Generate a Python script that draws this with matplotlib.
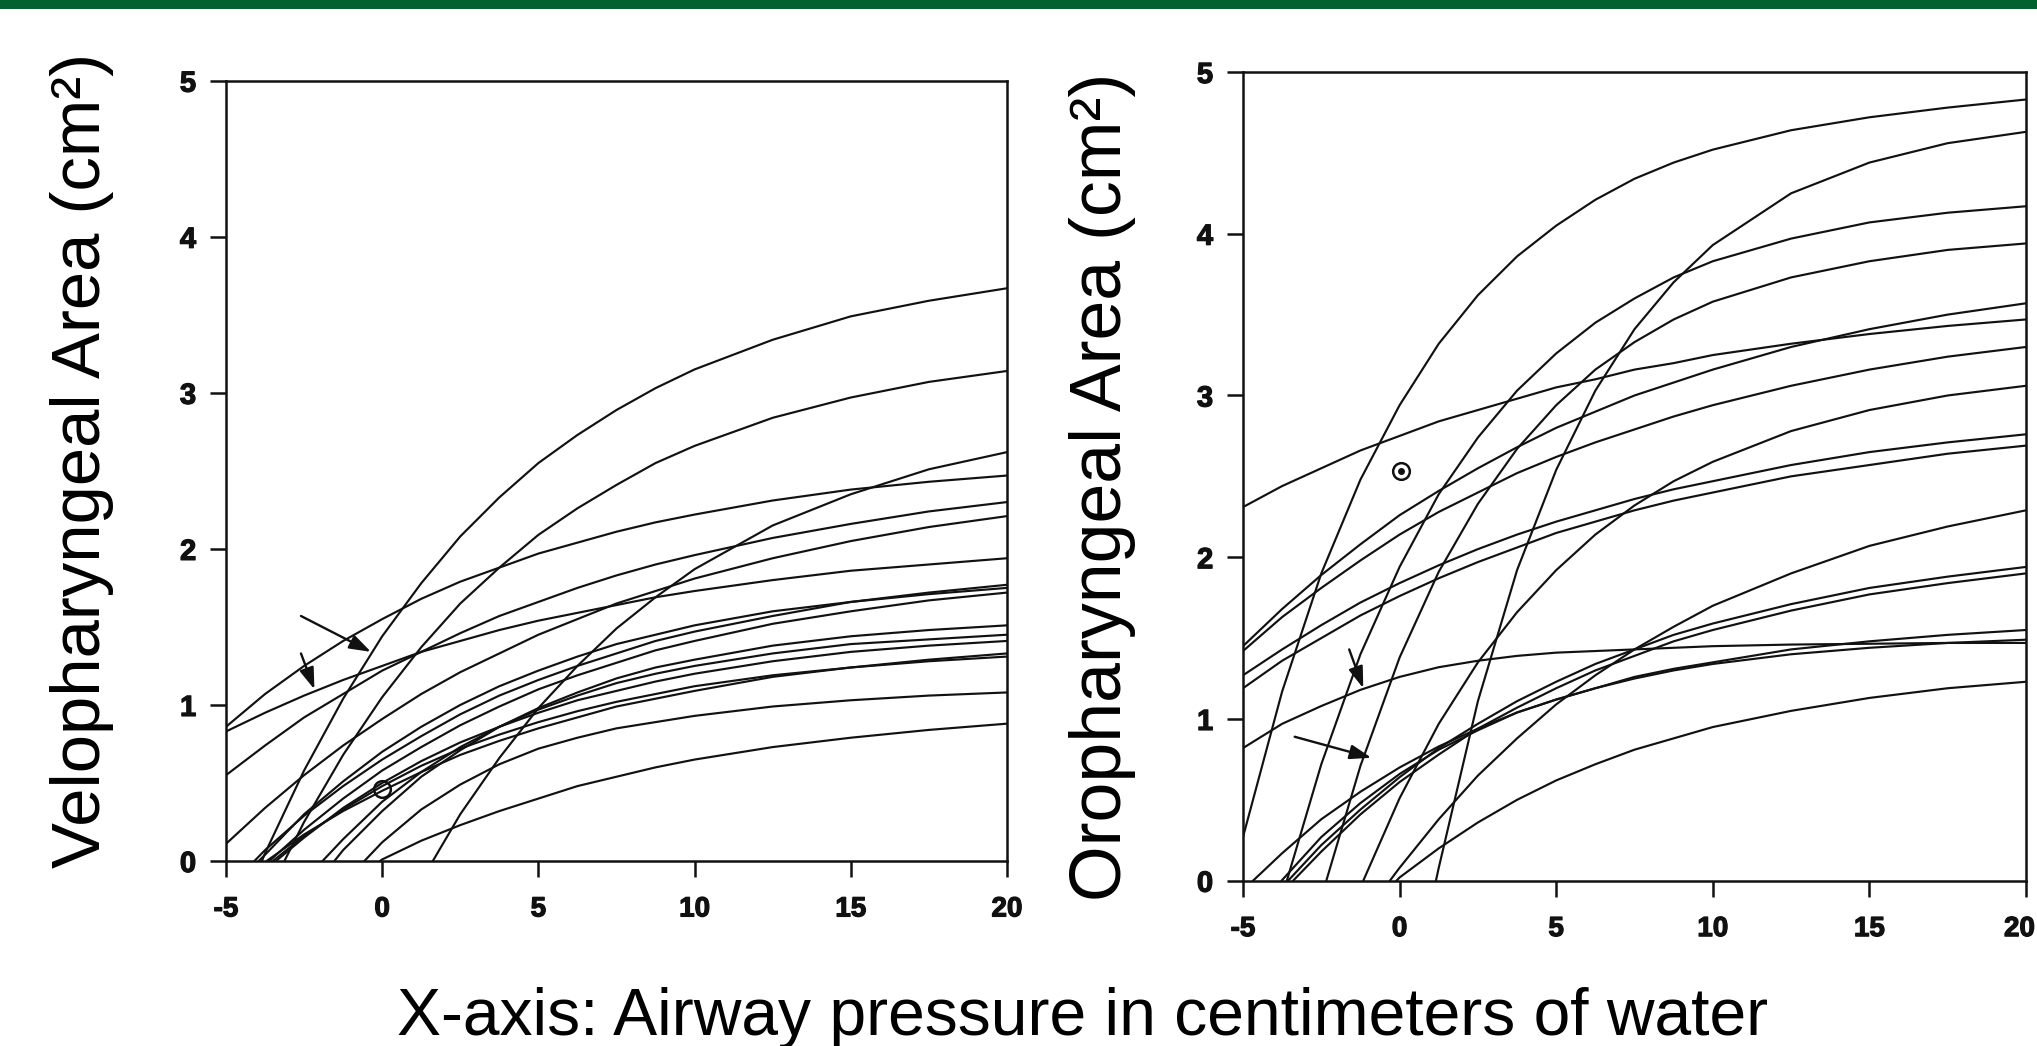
import matplotlib
matplotlib.use('Agg')
import matplotlib.pyplot as plt
from matplotlib.patches import Rectangle
from matplotlib.transforms import ScaledTranslation
import matplotlib.patheffects as pe

# ---------------- data ----------------
P_GRID = [-5, -3.75, -2.5, -1.25, 0, 1.25, 2.5, 3.75, 5, 6.25, 7.5, 8.75, 10, 12.5, 15, 17.5, 20]
X_TICKS = [-5, 0, 5, 10, 15, 20]
Y_TICKS = [0, 1, 2, 3, 4, 5]

N = None
# pressure where each curve leaves the zero line (None = curve already above 0 at -5)
velo_start = [-3.85, -3.13, 1.62, N, N, N, N, -4.09, -3.95, -3.61, -1.53, -1.91,
              -3.40, -3.70, -3.50, -0.57, -0.07]
velo_area = [
    [N, 0.05, 0.58, 1.04, 1.44, 1.78, 2.08, 2.33, 2.55, 2.73, 2.89, 3.03, 3.15, 3.34, 3.49, 3.59, 3.67],
    [N, N, 0.25, 0.68, 1.05, 1.37, 1.65, 1.88, 2.09, 2.26, 2.41, 2.55, 2.66, 2.84, 2.97, 3.07, 3.14],
    [N, N, N, N, N, N, 0.30, 0.66, 0.98, 1.25, 1.49, 1.69, 1.87, 2.15, 2.35, 2.51, 2.62],
    [0.86, 1.07, 1.25, 1.41, 1.55, 1.68, 1.79, 1.88, 1.97, 2.04, 2.11, 2.17, 2.22, 2.31, 2.38, 2.43, 2.47],
    [0.55, 0.74, 0.92, 1.07, 1.22, 1.34, 1.46, 1.57, 1.66, 1.75, 1.83, 1.90, 1.96, 2.07, 2.16, 2.24, 2.30],
    [0.11, 0.34, 0.55, 0.74, 0.91, 1.07, 1.21, 1.33, 1.45, 1.55, 1.65, 1.73, 1.81, 1.94, 2.05, 2.14, 2.21],
    [0.83, 0.95, 1.06, 1.16, 1.25, 1.34, 1.41, 1.48, 1.54, 1.59, 1.64, 1.69, 1.73, 1.80, 1.86, 1.90, 1.94],
    [N, 0.07, 0.29, 0.48, 0.65, 0.80, 0.94, 1.06, 1.16, 1.25, 1.33, 1.41, 1.47, 1.57, 1.66, 1.72, 1.77],
    [N, 0.04, 0.30, 0.51, 0.70, 0.86, 1.00, 1.12, 1.22, 1.31, 1.39, 1.45, 1.51, 1.60, 1.66, 1.71, 1.75],
    [N, N, 0.20, 0.40, 0.58, 0.73, 0.87, 0.99, 1.10, 1.19, 1.27, 1.35, 1.41, 1.52, 1.60, 1.67, 1.72],
    [N, N, N, 0.07, 0.32, 0.54, 0.71, 0.86, 0.98, 1.08, 1.17, 1.24, 1.29, 1.38, 1.44, 1.48, 1.51],
    [N, N, N, 0.14, 0.38, 0.57, 0.73, 0.86, 0.97, 1.06, 1.14, 1.20, 1.25, 1.33, 1.39, 1.42, 1.45],
    [N, N, 0.15, 0.34, 0.50, 0.64, 0.76, 0.86, 0.95, 1.03, 1.09, 1.15, 1.20, 1.28, 1.34, 1.38, 1.41],
    [N, N, 0.17, 0.32, 0.45, 0.57, 0.68, 0.77, 0.85, 0.92, 0.99, 1.04, 1.09, 1.18, 1.24, 1.29, 1.33],
    [N, N, 0.16, 0.33, 0.48, 0.61, 0.72, 0.81, 0.89, 0.96, 1.02, 1.07, 1.12, 1.19, 1.24, 1.28, 1.31],
    [N, N, N, N, 0.12, 0.33, 0.49, 0.62, 0.72, 0.79, 0.85, 0.89, 0.93, 0.99, 1.03, 1.06, 1.08],
    [N, N, N, N, 0.01, 0.13, 0.23, 0.32, 0.40, 0.48, 0.54, 0.60, 0.65, 0.73, 0.79, 0.84, 0.88],
]

oro_start = [N, 1.16, -2.34, N, N, N, N, -1.16, N, -3.60, -0.31, -3.56, -3.40,
             -4.68, -3.77, N, -0.10]
oro_area = [
    [0.27, 1.17, 1.90, 2.48, 2.94, 3.32, 3.62, 3.86, 4.05, 4.21, 4.34, 4.44, 4.52, 4.64, 4.72, 4.78, 4.83],
    [N, N, N, N, N, 0.08, 1.11, 1.92, 2.54, 3.03, 3.41, 3.70, 3.93, 4.25, 4.44, 4.56, 4.63],
    [N, N, N, 0.71, 1.38, 1.91, 2.33, 2.67, 2.94, 3.16, 3.33, 3.47, 3.58, 3.73, 3.83, 3.90, 3.94],
    [1.19, 1.36, 1.50, 1.64, 1.76, 1.87, 1.97, 2.06, 2.15, 2.22, 2.29, 2.35, 2.40, 2.50, 2.57, 2.64, 2.69],
    [1.45, 1.68, 1.89, 2.08, 2.26, 2.41, 2.55, 2.68, 2.80, 2.90, 3.00, 3.08, 3.16, 3.30, 3.41, 3.50, 3.57],
    [2.31, 2.44, 2.55, 2.66, 2.75, 2.84, 2.91, 2.98, 3.05, 3.10, 3.16, 3.20, 3.25, 3.32, 3.38, 3.43, 3.47],
    [1.42, 1.63, 1.81, 1.98, 2.14, 2.28, 2.40, 2.52, 2.62, 2.71, 2.79, 2.87, 2.94, 3.06, 3.16, 3.24, 3.30],
    [N, N, N, N, 0.51, 0.97, 1.35, 1.66, 1.92, 2.14, 2.32, 2.47, 2.59, 2.78, 2.91, 3.00, 3.06],
    [1.27, 1.43, 1.58, 1.72, 1.84, 1.95, 2.05, 2.14, 2.22, 2.29, 2.36, 2.42, 2.47, 2.57, 2.65, 2.71, 2.76],
    [N, N, 0.72, 1.40, 1.94, 2.39, 2.74, 3.03, 3.26, 3.45, 3.60, 3.73, 3.83, 3.97, 4.07, 4.13, 4.17],
    [N, N, N, N, 0.08, 0.38, 0.65, 0.88, 1.09, 1.27, 1.43, 1.57, 1.70, 1.90, 2.07, 2.19, 2.29],
    [N, N, 0.22, 0.44, 0.64, 0.82, 0.97, 1.11, 1.23, 1.34, 1.43, 1.52, 1.59, 1.71, 1.81, 1.88, 1.94],
    [N, N, 0.18, 0.41, 0.61, 0.78, 0.94, 1.07, 1.19, 1.30, 1.39, 1.48, 1.55, 1.67, 1.77, 1.84, 1.90],
    [N, 0.17, 0.38, 0.55, 0.70, 0.83, 0.94, 1.04, 1.12, 1.19, 1.26, 1.31, 1.35, 1.43, 1.48, 1.52, 1.55],
    [N, N, 0.27, 0.48, 0.66, 0.81, 0.93, 1.04, 1.12, 1.19, 1.25, 1.30, 1.34, 1.40, 1.44, 1.47, 1.49],
    [0.82, 0.97, 1.08, 1.18, 1.26, 1.32, 1.36, 1.39, 1.41, 1.42, 1.43, 1.44, 1.45, 1.46, 1.465, 1.47, 1.47],
    [N, N, N, N, 0.02, 0.20, 0.36, 0.50, 0.62, 0.72, 0.81, 0.88, 0.95, 1.05, 1.13, 1.19, 1.23],
]

# circled reference points (pressure, area)
velo_marker = (0.0, 0.46)
oro_marker = (0.05, 2.53)
# annotation arrows: (tail, head) in data units
velo_arrows = [((-2.60, 1.57), (-0.36, 1.34)), ((-2.60, 1.33), (-2.17, 1.10))]
oro_arrows = [((-1.61, 1.43), (-1.16, 1.19)), ((-3.35, 0.89), (-0.90, 0.76))]

TITLE_X = 'X-axis: Airway pressure in centimeters of water'
YLABEL_L = 'Velopharyngeal Area (cm\u00b2)'
YLABEL_R = 'Oropharyngeal Area (cm\u00b2)'

# ---------------- drawing ----------------
plt.rcParams['font.family'] = ['Liberation Sans', 'DejaVu Sans']
plt.rcParams['axes.unicode_minus'] = False

W, H = 2037, 1046
fig = plt.figure(figsize=(W / 100, H / 100), dpi=100)
fig.patches.append(Rectangle((0, 1 - 9 / H), 1, 9 / H, transform=fig.transFigure,
                             facecolor='#02612f', edgecolor='none', zorder=0))

ax_l = fig.add_axes([226 / W, 1 - 861 / H, (1007 - 226) / W, (861 - 80.7) / H])
ax_r = fig.add_axes([1243 / W, 1 - 880.7 / H, (2026 - 1243) / W, (880.7 - 72) / H])

INK = '#111111'
heavy = [pe.withStroke(linewidth=0.9, foreground=INK)]


def draw_panel(ax, starts, areas, marker, ring_dot, arrows):
    for p0, vals in zip(starts, areas):
        xs, ys = [], []
        if p0 is not None:
            xs.append(p0)
            ys.append(0.0)
        for p, v in zip(P_GRID, vals):
            if v is not None:
                xs.append(p)
                ys.append(v)
        ax.plot(xs, ys, color=INK, lw=1.55, solid_joinstyle='round',
                solid_capstyle='round', zorder=2)
    ax.plot([marker[0]], [marker[1]], marker='o', ms=12, mfc='none', mec=INK,
            mew=1.8, zorder=4)
    if ring_dot:
        ax.plot([marker[0]], [marker[1]], marker='o', ms=4, mfc=INK, mec=INK,
                zorder=5)
    for tail, head in arrows:
        ax.annotate('', xy=head, xytext=tail,
                    arrowprops=dict(arrowstyle='-|>,head_length=0.65,head_width=0.22',
                                    mutation_scale=20, color=INK, lw=1.7,
                                    shrinkA=0, shrinkB=0), zorder=5)
    ax.set_xlim(-5, 20)
    ax.set_ylim(0, 5)
    ax.set_xticks(X_TICKS)
    ax.set_yticks(Y_TICKS)
    ax.set_xticklabels([str(t) for t in X_TICKS])
    ax.set_yticklabels([str(t) for t in Y_TICKS])
    ax.tick_params(axis='both', direction='out', length=11.5, width=1.8, color=INK)
    ax.tick_params(axis='x', labelsize=20, pad=14)
    ax.tick_params(axis='y', labelsize=21, pad=10)
    for lab in ax.get_xticklabels() + ax.get_yticklabels():
        lab.set_fontweight('bold')
        lab.set_color(INK)
        lab.set_path_effects(heavy)
    for sp in ax.spines.values():
        sp.set_linewidth(1.8)
        sp.set_color(INK)


draw_panel(ax_l, velo_start, velo_area, velo_marker, False, velo_arrows)
draw_panel(ax_r, oro_start, oro_area, oro_marker, True, oro_arrows)

# the last right-panel tick label sits at the page edge: keep it fully inside
last = ax_r.get_xticklabels()[-1]
last.set_horizontalalignment('right')
last.set_transform(last.get_transform() + ScaledTranslation(9 / 100, 0, fig.dpi_scale_trans))

fig.text(82 / W, 1 - 460 / H, YLABEL_L, rotation=90, ha='center', va='center',
         fontsize=49.6, color='black')
fig.text(1103 / W, 1 - 487 / H, YLABEL_R, rotation=90, ha='center', va='center',
         fontsize=51.6, color='black')
fig.text(1083 / W, 1 - 1035 / H, TITLE_X, ha='center', va='baseline',
         fontsize=47.5, color='black')

fig.savefig('out.png', dpi=100)
